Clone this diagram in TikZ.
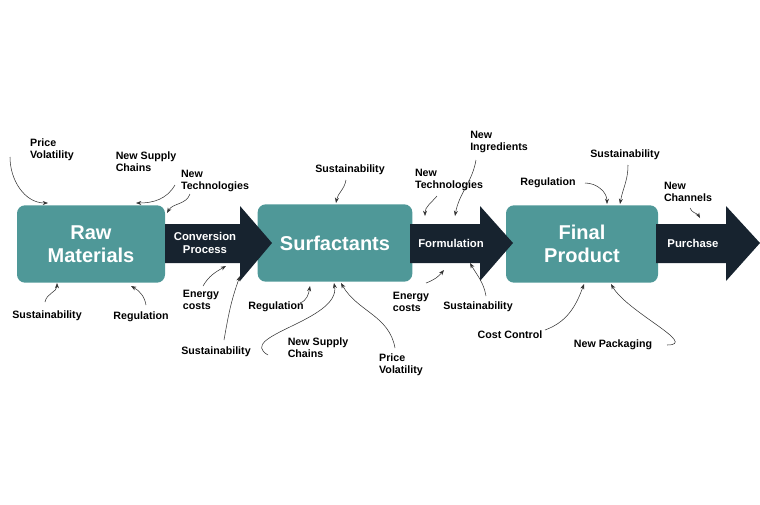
\documentclass[tikz,border=0pt]{standalone}
\usepackage{fontspec}
\setmainfont{Liberation Sans}
\usetikzlibrary{arrows.meta}
\definecolor{teal1}{HTML}{4F9898}
\definecolor{navy1}{HTML}{17232F}
\tikzset{
  stage/.style={fill=teal1, rounded corners=6pt, text=white, align=center,
    font=\bfseries\fontsize{15}{17}\selectfont},
  flow/.style={fill=navy1},
  flowtext/.style={text=white, align=center, font=\bfseries\fontsize{8.5}{10}\selectfont},
  factor/.style={align=left, font=\bfseries\fontsize{8}{9}\selectfont, inner sep=1pt},
  hint/.style={-{Stealth[length=4pt]}, thin, black!80}
}
\begin{document}
\begin{tikzpicture}[x=0.75pt,y=-0.75pt]
\useasboundingbox (0,0) rectangle (760,504);

% Stages
\node[stage, minimum width=111pt, minimum height=58pt] (raw) at (91,244) {Raw\\Materials};
\node[stage, minimum width=116pt, minimum height=58pt] (surf) at (335,243) {Surfactants};
\node[stage, minimum width=114pt, minimum height=58pt] (prod) at (582,244) {Final\\Product};

% Flow arrows
\fill[flow] (165,224) -- (240,224) -- (240,206) -- (272,243) -- (240,281) -- (240,263) -- (165,263) -- cycle;
\node[flowtext] (conv) at (205,243) {Conversion\\Process};
\fill[flow] (410,224) -- (480,224) -- (480,206) -- (513,243) -- (480,281) -- (480,263) -- (410,263) -- cycle;
\node[flowtext] (form) at (451,243) {Formulation};
\fill[flow] (656,224) -- (726,224) -- (726,206) -- (760,243) -- (726,281) -- (726,263) -- (656,263) -- cycle;
\node[flowtext] (buy) at (693,243) {Purchase};

% Raw materials factors
\node[factor] (pv1) at (52,150) {Price\\Volatility};
\node[factor] (sc1) at (146,162) {New Supply\\Chains};
\node[factor] (nt1) at (215,181) {New\\Technologies};
\node[factor] (su1) at (47,316) {Sustainability};
\node[factor] (re1) at (141,317) {Regulation};
\node[factor] (ec1) at (201,300) {Energy\\costs};
\node[factor] (su2) at (216,352) {Sustainability};
\draw[hint] (10,157) to[out=-90,in=180] (48,203);
\draw[hint] (175,185) to[out=-120,in=0] (136,203);
\draw[hint] (190,194) to[out=-110,in=60] (167,213);
\draw[hint] (45,302) to[out=80,in=-90] (57,283);
\draw[hint] (146,305) to[out=100,in=-30] (131,286);
\draw[hint] (203,286) to[out=60,in=-150] (226,266);
\draw[hint] (224,340) to[out=80,in=-110] (240,276);

% Surfactant factors
\node[factor] (su3) at (350,170) {Sustainability};
\node[factor] (re2) at (276,307) {Regulation};
\node[factor] (sc2) at (318,348) {New Supply\\Chains};
\node[factor] (pv2) at (401,365) {Price\\Volatility};
\draw[hint] (346,180) to[out=-100,in=80] (336,203);
\draw[hint] (300,303) to[out=20,in=-100] (310,286);
\draw[hint] (268,355) to[out=150,in=-80] (334,283);
\draw[hint] (395,348) to[out=100,in=-60] (341,283);

% Formulation factors
\node[factor] (nt2) at (449,180) {New\\Technologies};
\node[factor] (ni) at (499,142) {New\\Ingredients};
\node[factor] (ec2) at (411,302) {Energy\\costs};
\node[factor] (su4) at (478,307) {Sustainability};
\draw[hint] (437,196) to[out=-130,in=90] (425,216);
\draw[hint] (476,160) to[out=-100,in=80] (455,216);
\draw[hint] (426,283) to[out=20,in=-130] (444,270);
\draw[hint] (486,296) to[out=100,in=-60] (470,263);

% Product factors
\node[factor] (re3) at (548,183) {Regulation};
\node[factor] (su5) at (625,155) {Sustainability};
\node[factor] (nc) at (688,192) {New\\Channels};
\node[factor] (cc) at (510,335) {Cost Control};
\node[factor] (np) at (613,345) {New Packaging};
\draw[hint] (585,183) to[out=0,in=90] (607,204);
\draw[hint] (628,165) to[out=-90,in=80] (620,204);
\draw[hint] (690,208) to[out=-70,in=120] (700,218);
\draw[hint] (545,330) to[out=20,in=-110] (584,284);
\draw[hint] (667,345) to[out=0,in=-60] (611,284);
\end{tikzpicture}
\end{document}
